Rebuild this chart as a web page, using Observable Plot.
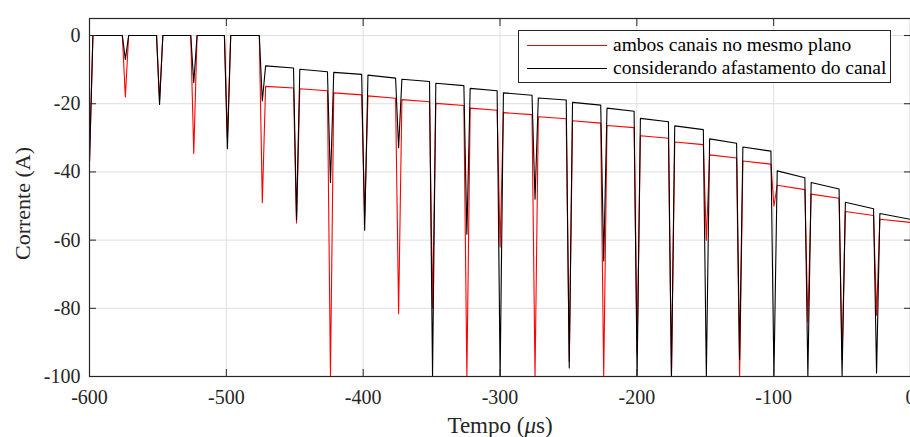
<!DOCTYPE html>
<html><head><meta charset="utf-8">
<script src="https://cdn.jsdelivr.net/npm/d3@7"></script>
<script src="https://cdn.jsdelivr.net/npm/@observablehq/plot@0.6"></script>
<style>
html,body{margin:0;padding:0;background:#fff;overflow:hidden;}
#wrap{position:relative;width:910px;height:437px;}
.legend{position:absolute;left:518px;top:30px;width:373px;height:53px;border:1px solid #262626;background:#fff;font-family:'Liberation Serif','Times New Roman',serif;font-size:19.5px;color:#000;box-sizing:border-box;}
.row{position:absolute;left:0;height:22px;display:flex;align-items:center;white-space:nowrap;}
.sw{width:80px;height:0;border-top:1.2px solid;margin-left:8px;margin-right:6px;}
</style></head><body><div id="wrap"></div>
<script>
const seriesNames = ["ambos canais no mesmo plano", "considerando afastamento do canal"];
const seriesColors = ["#ff0000", "#000000"];
const xTicks = [-600, -500, -400, -300, -200, -100, 0];
const yTicks = [-100, -80, -60, -40, -20, 0];

// waveform values (time in μs, current in A)
const startTime = -600, firstRiseTime = -597.5;
const startValue = [-37, -37];
const spikeTimes = [-573.8, -548.8, -523.8, -499.2, -473.7, -448.7, -423.9, -398.9, -374.1, -349.3, -324.2, -299.9,
  -274.4, -249.4, -224.2, -199.8, -174.7, -149.2, -124.9, -99.8, -75.0, -50.0, -24.8];
const rampDown = 2.2, rampUp = 2.4;

const redSpikeMin = [-18, -19, -34.6, -30, -49, -55, -100, -53, -81.6, -80, -100, -62,
  -100, -95.5, -100, -93, -100, -60, -100, -50, -84, -95, -82];
const blackSpikeMin = [-7, -20.2, -13.8, -33.2, -19.2, -54, -43.1, -57.1, -32.9, -100, -58.3, -100,
  -48, -97.5, -66.1, -100, -100, -100, -95, -100, -100, -100, -99];

const redPlateauStart = [0, 0, 0, 0, -14.9, -15.6, -16.8, -17.7, -18.8, -19.9, -21.3, -22.6,
  -23.8, -25.0, -26.4, -29.4, -31.2, -35.0, -36.8, -43.9, -46.5, -51.6, -53.9];
const redPlateauEnd = [0, 0, 0, 0, -15.4, -16.2, -17.4, -18.4, -19.4, -20.5, -21.9, -23.2,
  -24.4, -25.7, -27.0, -30.1, -32.0, -35.9, -37.7, -45.2, -47.7, -52.8, -54.8];
const blackPlateauStart = [0, 0, 0, 0, -8.9, -9.9, -10.8, -11.6, -12.8, -14.0, -15.5, -16.8,
  -18.3, -19.6, -21.3, -24.3, -26.5, -30.3, -32.7, -39.7, -43.1, -48.9, -52.2];
const blackPlateauEnd = [0, 0, 0, 0, -9.5, -10.6, -11.4, -12.5, -13.5, -14.7, -16.2, -17.5,
  -18.9, -20.4, -22.2, -25.3, -27.6, -31.6, -33.9, -41.7, -45.0, -50.8, -53.9];

function buildSeries(name, v0, mins, pStart, pEnd) {
  const pts = [{series: name, t: startTime, v: v0}, {series: name, t: firstRiseTime, v: 0}];
  let prevEnd = 0;
  spikeTimes.forEach((tk, k) => {
    pts.push({series: name, t: tk - rampDown, v: prevEnd});
    pts.push({series: name, t: tk, v: mins[k]});
    pts.push({series: name, t: tk + rampUp, v: pStart[k]});
    prevEnd = pEnd[k];
  });
  pts.push({series: name, t: 0, v: prevEnd});
  return pts;
}
const redData = buildSeries(seriesNames[0], startValue[0], redSpikeMin, redPlateauStart, redPlateauEnd);
const blackData = buildSeries(seriesNames[1], startValue[1], blackSpikeMin, blackPlateauStart, blackPlateauEnd);

const fmt = d => String(d);
const chart = Plot.plot({
  width: 910, height: 437,
  marginLeft: 89, marginRight: 0, marginTop: 18, marginBottom: 61,
  style: {fontFamily: "'Liberation Serif', 'Times New Roman', serif", fontSize: "20px", color: "#262626", background: "#fff", overflow: "visible"},
  x: {domain: [-600, 0], label: null},
  y: {domain: [-100, 5], label: null},
  marks: [
    Plot.gridX(xTicks, {stroke: "#dfdfdf", strokeOpacity: 1, strokeWidth: 1}),
    Plot.gridY(yTicks, {stroke: "#dfdfdf", strokeOpacity: 1, strokeWidth: 1}),
    Plot.line(redData, {x: "t", y: "v", stroke: seriesColors[0], strokeWidth: 1.1, clip: true}),
    Plot.line(blackData, {x: "t", y: "v", stroke: seriesColors[1], strokeWidth: 1.1, clip: true}),
    Plot.axisX(xTicks, {anchor: "bottom", tickSize: 0, tickPadding: 13, tickFormat: fmt, fill: "#262626"}),
    Plot.axisY(yTicks, {anchor: "left", tickSize: 0, tickPadding: 9, tickFormat: fmt, fill: "#262626"}),
    Plot.axisX(xTicks, {anchor: "bottom", tickSize: 7, dy: -7, tickFormat: () => "", stroke: "#262626"}),
    Plot.axisX(xTicks, {anchor: "top", tickSize: 7, dy: 7, tickFormat: () => "", stroke: "#262626"}),
    Plot.axisY(yTicks, {anchor: "left", tickSize: 7, dx: 7, tickFormat: () => "", stroke: "#262626"}),
    Plot.axisY(yTicks, {anchor: "right", tickSize: 7, dx: -7, tickFormat: () => "", stroke: "#262626"}),
    Plot.frame({stroke: "#262626", strokeWidth: 1.2}),
    Plot.text(["Tempo (μs)"], {frameAnchor: "bottom", lineAnchor: "middle", textAnchor: "middle", dy: 49, fontSize: 23, fill: "#262626"}),
    Plot.text(["Corrente (A)"], {frameAnchor: "left", lineAnchor: "middle", textAnchor: "middle", dx: -67, dy: 6, rotate: -90, fontSize: 22, fill: "#262626"})
  ]
});
chart.querySelectorAll("text").forEach(t => {
  if (t.textContent === "Tempo (μs)") {
    t.innerHTML = 'Tempo (<tspan font-style="italic">μ</tspan>s)';
  }
});
const wrap = document.getElementById("wrap");
wrap.appendChild(chart);

const legend = document.createElement("div");
legend.className = "legend";
seriesNames.forEach((name, i) => {
  const row = document.createElement("div");
  row.className = "row";
  row.style.top = (i === 0 ? 3 : 26) + "px";
  const sw = document.createElement("span");
  sw.className = "sw";
  sw.style.borderTopColor = seriesColors[i];
  const lab = document.createElement("span");
  lab.textContent = name;
  row.appendChild(sw); row.appendChild(lab);
  legend.appendChild(row);
});
wrap.appendChild(legend);
</script></body></html>
